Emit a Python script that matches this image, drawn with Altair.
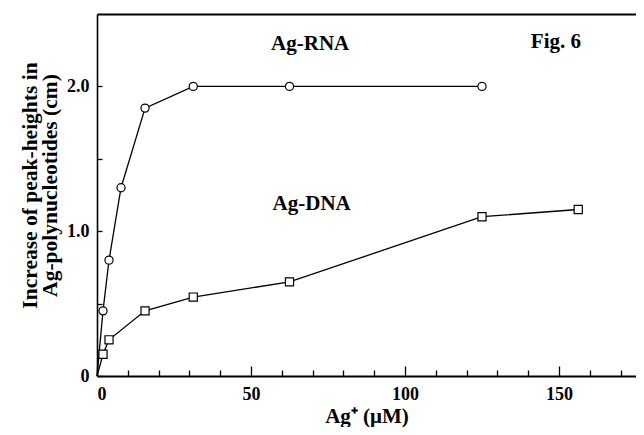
import altair as alt
import pandas as pd

# ---- data ----
series = ["Ag-RNA", "Ag-DNA"]
rna_x = [1.95, 3.9, 7.8, 15.6, 31.25, 62.5, 125.0]
rna_y = [0.45, 0.80, 1.30, 1.85, 2.0, 2.0, 2.0]
dna_x = [1.95, 3.9, 15.6, 31.25, 62.5, 125.0, 156.25]
dna_y = [0.15, 0.25, 0.45, 0.545, 0.65, 1.10, 1.15]

x_ticks = [0, 50, 100, 150]
x_minor = list(range(0, 171, 10))
y_ticks = [0, 1, 2]
y_minor = [0, 0.5, 1, 1.5, 2]
x_domain = [0, 175]
y_domain = [0, 2.5]

ann_text = ["Ag-RNA", "Ag-DNA", "Fig. 6"]
ann_x = [69.2, 69.7, 149.0]
ann_y = [2.25, 1.146, 2.265]

# ---- tables ----
pts = pd.DataFrame(
    [{"series": "Ag-RNA", "x": x, "y": y} for x, y in zip(rna_x, rna_y)]
    + [{"series": "Ag-DNA", "x": x, "y": y} for x, y in zip(dna_x, dna_y)]
)
line_rows = []
for name, xs_, ys_ in [("Ag-RNA", rna_x, rna_y), ("Ag-DNA", dna_x, dna_y)]:
    line_rows.append({"series": name, "x": 0.0, "y": 0.0, "order": 0})
    for i, (x, y) in enumerate(zip(xs_, ys_)):
        line_rows.append({"series": name, "x": x, "y": y, "order": i + 1})
lines_df = pd.DataFrame(line_rows)
ann = pd.DataFrame({"label": ann_text, "x": ann_x, "y": ann_y})

W, H = 539, 362
SERIF = "Liberation Serif"

xs = alt.Scale(domain=x_domain, nice=False, zero=False)
ys = alt.Scale(domain=y_domain, nice=False, zero=False)

lines = alt.Chart(lines_df).mark_line(color="black", strokeWidth=1.3).encode(
    x=alt.X(
        "x:Q", scale=xs,
        axis=alt.Axis(
            values=x_ticks, ticks=False, tickSize=0, grid=False,
            domainColor="black", domainWidth=2,
            labelFont=SERIF, labelFontSize=18, labelFontWeight="bold",
            labelColor="black", labelPadding=9,
            title="Ag⁺ (μM)", titleFont=SERIF, titleFontSize=21,
            titleFontWeight="bold", titleColor="black",
            titleBaseline="alphabetic", titleY=46,
        ),
    ),
    y=alt.Y(
        "y:Q", scale=ys,
        axis=alt.Axis(
            values=y_ticks, ticks=False, tickSize=0, grid=False,
            domainColor="black", domainWidth=1.6,
            labelFont=SERIF, labelFontSize=18, labelFontWeight="bold",
            labelColor="black", labelPadding=8,
            labelExpr="datum.value == 0 ? '0' : format(datum.value, '.1f')",
            title=["Increase of peak-heights in", "Ag-polynucleotides (cm)"],
            titleFont=SERIF, titleFontSize=21.5, titleFontWeight="bold",
            titleColor="black", titleAngle=270, titleAlign="center",
            titleBaseline="top", titleX=-78, titleY=171, titleLineHeight=20,
        ),
    ),
    detail="series:N",
    order="order:Q",
)

points = alt.Chart(pts).mark_point(
    filled=True, fill="white", stroke="black", strokeWidth=1.2, size=66, opacity=1
).encode(
    x=alt.X(
        "x:Q", scale=xs,
        axis=alt.Axis(
            orient="top", offset=-H, domain=False, labels=False, grid=False,
            values=x_minor, tickColor="black", tickWidth=1.3,
            tickSize={"condition": {"test": "datum.value % 50 === 0", "value": 10}, "value": 6},
            title=None,
        ),
    ),
    y=alt.Y(
        "y:Q", scale=ys,
        axis=alt.Axis(
            orient="right", offset=-W, domain=False, labels=False, grid=False,
            values=y_minor, tickColor="black", tickWidth=1.3, tickSize=5,
            title=None,
        ),
    ),
    shape=alt.Shape("series:N", scale=alt.Scale(domain=series, range=["circle", "square"]), legend=None),
)

texts = alt.Chart(ann).mark_text(
    font=SERIF, fontSize=21, fontWeight="bold", align="center",
    baseline="alphabetic", color="black",
).encode(
    x=alt.X(
        "x:Q", scale=xs,
        axis=alt.Axis(
            orient="top", domain=True, domainColor="black", domainWidth=2,
            labels=False, ticks=False, grid=False, title=None,
        ),
    ),
    y=alt.Y("y:Q", scale=ys, axis=None),
    text="label:N",
)

chart = (
    alt.layer(lines, points, texts)
    .resolve_axis(x="independent", y="independent")
    .properties(
        width=W, height=H,
        autosize=alt.AutoSizeParams(type="none"),
        padding={"left": 89, "top": 6, "right": 0, "bottom": 51},
        background="white",
    )
    .configure_view(stroke=None)
)

chart.save("out.html", embed_options={"renderer": "svg", "actions": False})
